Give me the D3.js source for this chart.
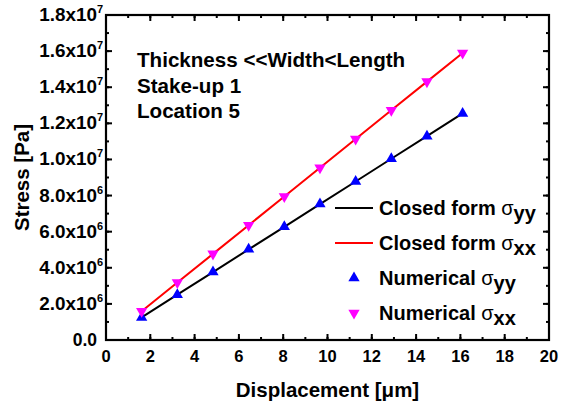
<!DOCTYPE html>
<html>
<head>
<meta charset="utf-8">
<script src="https://cdn.jsdelivr.net/npm/d3@7"></script>
<style>
  body { margin: 0; background: #fff; }
  svg { font-family: "Liberation Sans", Arial, sans-serif; font-weight: bold; }
</style>
</head>
<body>
<div id="chart"></div>
<script>
// displacement in micrometres, stress in Pa
const displacement = [1.61, 3.22, 4.83, 6.44, 8.05, 9.66, 11.27, 12.88, 14.49, 16.1];
const sigmaYY = [1.25e6, 2.51e6, 3.76e6, 5.02e6, 6.27e6, 7.53e6, 8.78e6, 1.004e7, 1.129e7, 1.255e7];
const sigmaXX = [1.59e6, 3.18e6, 4.77e6, 6.36e6, 7.95e6, 9.54e6, 1.113e7, 1.272e7, 1.431e7, 1.59e7];
const xTicks = [0, 2, 4, 6, 8, 10, 12, 14, 16, 18, 20];
const yTicks = [0, 2e6, 4e6, 6e6, 8e6, 1e7, 1.2e7, 1.4e7, 1.6e7, 1.8e7];
const noteLines = ["Thickness <<Width<Length", "Stake-up 1", "Location 5"];

let margin = { left: 106, right: 17, top: 15, bottom: 63 };
let W = 566, H = 403;
let width = W - margin.left - margin.right;
let height = H - margin.top - margin.bottom;

let svg = d3.select("#chart").append("svg")
  .attr("width", W).attr("height", H)
  .append("g")
  .attr("transform", `translate(${margin.left},${margin.top})`);

let x = d3.scaleLinear().domain([0, 20]).range([0, width]);
let y = d3.scaleLinear().domain([0, 1.8e7]).range([height, 0]);

// minor ticks (inward) on all four sides
let xMinor = d3.range(0, 21, 1), yMinor = d3.range(0, 1.8e7 + 1, 1e6);
function tickSet(g, vals, scale, horiz, len, side) {
  vals.forEach(v => {
    let p = scale(v);
    if (horiz) {
      let y0 = side === "bottom" ? height : 0;
      let dir = side === "bottom" ? -1 : 1;
      g.append("line").attr("x1", p).attr("x2", p).attr("y1", y0).attr("y2", y0 + dir * len);
    } else {
      let x0 = side === "left" ? 0 : width;
      let dir = side === "left" ? 1 : -1;
      g.append("line").attr("y1", p).attr("y2", p).attr("x1", x0).attr("x2", x0 + dir * len);
    }
  });
}
let ticksG = svg.append("g").attr("stroke", "#000").attr("stroke-width", 2);
["bottom", "top"].forEach(s => {
  tickSet(ticksG, xMinor, x, true, 3, s);
  tickSet(ticksG, xTicks, x, true, 6, s);
});
["left", "right"].forEach(s => {
  tickSet(ticksG, yMinor, y, false, 3, s);
  tickSet(ticksG, yTicks, y, false, 6, s);
});

// frame
svg.append("rect").attr("width", width).attr("height", height)
  .attr("fill", "none").attr("stroke", "#000").attr("stroke-width", 2.2);

// x tick labels
svg.append("g").selectAll("text").data(xTicks).join("text")
  .attr("x", d => x(d)).attr("y", height + 22)
  .attr("text-anchor", "middle").attr("font-size", 16.5)
  .text(d => d);

// y tick labels like 1.8x10^7
let yl = svg.append("g").selectAll("g").data(yTicks).join("g")
  .attr("transform", d => `translate(-9,${y(d) + 6})`);
yl.each(function(d) {
  let g = d3.select(this);
  if (d === 0) {
    g.append("text").attr("text-anchor", "end").attr("font-size", 17.5).text("0.0");
    return;
  }
  let e = Math.floor(Math.log10(d));
  let m = (d / Math.pow(10, e)).toFixed(1);
  g.append("text").attr("text-anchor", "end").attr("font-size", 17.5)
    .attr("transform", "scale(1.08,1)").text(m + "x10");
  g.append("text").attr("x", 0).attr("y", -8).attr("font-size", 11).text(e);
});

// axis titles
svg.append("text").attr("x", width / 2).attr("y", height + 57)
  .attr("text-anchor", "middle").attr("font-size", 20.5)
  .text("Displacement [\u03bcm]");
svg.append("text")
  .attr("transform", `translate(${-77},${height / 2})rotate(-90)`)
  .attr("text-anchor", "middle").attr("font-size", 20.5)
  .text("Stress [Pa]");

// lines
let line = vals => d3.line().x((d, i) => x(displacement[i])).y(d => y(d))(vals);
svg.append("path").attr("d", line(sigmaYY)).attr("fill", "none")
  .attr("stroke", "#000").attr("stroke-width", 2);
svg.append("path").attr("d", line(sigmaXX)).attr("fill", "none")
  .attr("stroke", "#ff0000").attr("stroke-width", 2);

// markers
let tri = d3.symbol().type(d3.symbolTriangle).size(55);
svg.append("g").selectAll("path").data(sigmaYY).join("path")
  .attr("d", tri).attr("fill", "#0000ff")
  .attr("transform", (d, i) => `translate(${x(displacement[i])},${y(d)})`);
svg.append("g").selectAll("path").data(sigmaXX).join("path")
  .attr("d", tri).attr("fill", "#ff00ff")
  .attr("transform", (d, i) => `translate(${x(displacement[i])},${y(d)})rotate(180)`);

// annotation
svg.append("g").selectAll("text").data(noteLines).join("text")
  .attr("x", 31).attr("y", (d, i) => 52 + i * 25.5)
  .attr("font-size", 20.6).text(d => d);

// legend
let legend = svg.append("g").attr("transform", "translate(229,193)");
let items = [
  { label: "Closed form ", sub: "yy", kind: "line", color: "#000" },
  { label: "Closed form ", sub: "xx", kind: "line", color: "#ff0000" },
  { label: "Numerical ", sub: "yy", kind: "up", color: "#0000ff" },
  { label: "Numerical ", sub: "xx", kind: "down", color: "#ff00ff" },
];
items.forEach((it, i) => {
  let g = legend.append("g").attr("transform", `translate(0,${i * 35})`);
  if (it.kind === "line") {
    g.append("line").attr("x1", 0).attr("x2", 38).attr("y1", 0).attr("y2", 0)
      .attr("stroke", it.color).attr("stroke-width", 2);
  } else {
    g.append("path").attr("d", tri).attr("fill", it.color)
      .attr("transform", `translate(19,0)${it.kind === "down" ? "rotate(180)" : ""}`);
  }
  let t = g.append("text").attr("x", 44).attr("y", 7).attr("font-size", 20);
  t.append("tspan").text(it.label);
  t.append("tspan").attr("font-weight", "normal").text("\u03c3");
  t.append("tspan").attr("dy", 5).text(it.sub);
});
</script>
</body>
</html>
